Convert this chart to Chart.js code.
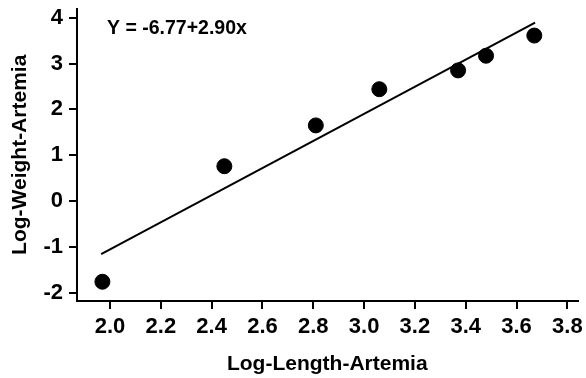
<!DOCTYPE html>
<html>
<head>
<meta charset="utf-8">
<script src="https://cdn.jsdelivr.net/npm/chart.js@4/dist/chart.umd.min.js"></script>
<style>
  body { margin: 0; background: #fff; }
  #wrap { width: 586px; height: 378px; }
</style>
</head>
<body>
<div id="wrap"><canvas id="graficoArtemia" width="586" height="378"></canvas></div>
<script>
// datos
const logLength = [1.97, 2.45, 2.81, 3.06, 3.37, 3.48, 3.67];
const logWeight = [-1.76, 0.76, 1.65, 2.44, 2.85, 3.17, 3.61];
// extremos de la recta de regresion
const lineX = [1.965, 3.673];
const lineY = [-1.16, 3.89];
const xTicks = [2.0, 2.2, 2.4, 2.6, 2.8, 3.0, 3.2, 3.4, 3.6, 3.8];
const yTicks = [-2, -1, 0, 1, 2, 3, 4];
const ecuacion = 'Y = -6.77+2.90x';

const fuente = 'Arial, "Liberation Sans", sans-serif';

// texto de la ecuacion dentro del area del grafico
const textoEcuacion = {
  id: 'textoEcuacion',
  afterDraw: function (chart) {
    const c = chart.ctx;
    const area = chart.chartArea;
    c.save();
    c.fillStyle = '#000';
    c.font = 'bold 19.5px ' + fuente;
    c.textBaseline = 'middle';
    c.fillText(ecuacion, area.left + 30, area.top + 20);
    c.restore();
  }
};

const ctx = document.getElementById('graficoArtemia');
new Chart(ctx, {
  type: 'scatter',
  data: {
    datasets: [{
        label: 'datos',
        data: logLength.map(function (x, i) { return { x: x, y: logWeight[i] }; }),
        backgroundColor: '#000',
        borderColor: '#000',
        pointRadius: 7.5,
        pointHoverRadius: 7.5
      }, {
        label: 'regresion',
        type: 'line',
        data: lineX.map(function (x, i) { return { x: x, y: lineY[i] }; }),
        borderColor: '#000',
        borderWidth: 2,
        pointRadius: 0,
        fill: false
    }]
  },
  options: {
    responsive: false,
    animation: false,
    layout: { padding: { top: 7, right: 8, bottom: 1, left: 0 } },
    plugins: {
      legend: { display: false },
      tooltip: { enabled: false }
    },
    scales: {
      x: {
        type: 'linear',
        min: 1.87,
        max: 3.84,
        afterBuildTicks: function (scale) {
          scale.ticks = xTicks.map(function (v) { return { value: v }; });
        },
        afterFit: function (scale) {
          scale.height = 76;
          scale.paddingLeft = 0;
          scale.paddingRight = 0;
        },
        border: { display: true, color: '#000', width: 2 },
        grid: { drawOnChartArea: false, drawTicks: true, tickLength: 8, color: '#000', lineWidth: 2 },
        ticks: {
          color: '#000',
          padding: 5,
          maxRotation: 0,
          font: { family: fuente, size: 22, weight: 'bold' },
          callback: function (v) { return v.toFixed(1); }
        },
        title: {
          display: true,
          text: 'Log-Length-Artemia',
          color: '#000',
          padding: { top: 0, bottom: 0 },
          font: { family: fuente, size: 21, weight: 'bold' }
        }
      },
      y: {
        min: -2.18,
        max: 4.2,
        afterBuildTicks: function (scale) {
          scale.ticks = yTicks.map(function (v) { return { value: v }; });
        },
        afterFit: function (scale) {
          scale.width = 77;
          scale.paddingTop = 0;
          scale.paddingBottom = 0;
        },
        border: { display: true, color: '#000', width: 2 },
        grid: { drawOnChartArea: false, drawTicks: true, tickLength: 8, color: '#000', lineWidth: 2 },
        ticks: {
          color: '#000',
          padding: 6,
          font: { family: fuente, size: 22, weight: 'bold' }
        },
        title: {
          display: true,
          text: 'Log-Weight-Artemia',
          color: '#000',
          padding: { top: 8, bottom: 0 },
          font: { family: fuente, size: 21, weight: 'bold' }
        }
      }
    }
  },
  plugins: [textoEcuacion]
});
</script>
</body>
</html>
